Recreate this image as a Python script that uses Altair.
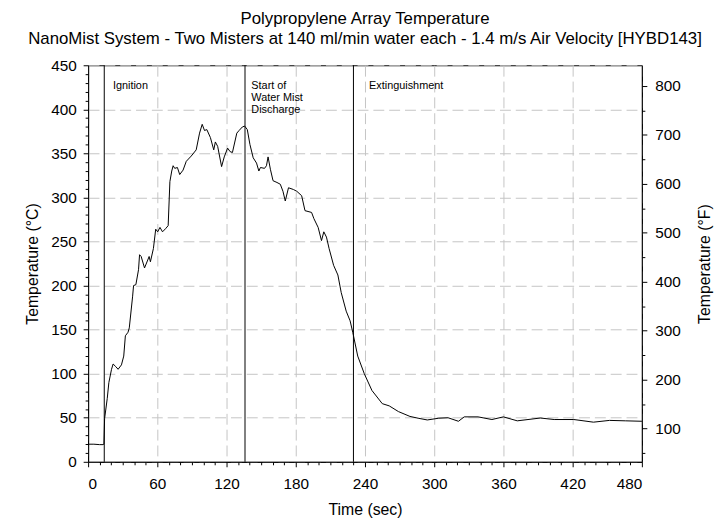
import altair as alt
import pandas as pd

# ---- data ----
time_s = [0, 5, 10, 13, 13.7, 14.3, 16.6, 18, 20.3, 21.7, 24, 26, 28.9, 30.9, 32.3, 34.6,
          35.7, 38.6, 39.4, 41.4, 43.7, 44.6, 46, 48.9, 51.7, 52.9, 54, 56.6, 58.6, 60.3,
          62.3, 64.5, 67.1, 69.4, 70.9, 72.5, 73.7, 75.1, 77.4, 79.4, 82.3, 85.1, 89.4,
          93.7, 96.6, 98.9, 100.9, 102.9, 106, 108.9, 110.3, 112.3, 115.7, 118, 120.9,
          123.1, 125.1, 128.9, 130.9, 133.7, 135.7, 138, 140.3, 143.1, 146, 148, 149.4,
          152.9, 154.6, 156, 158, 160.3, 163.7, 166.6, 168.9, 170.9, 173.7, 178, 180.9,
          185.1, 188, 193.7, 195.7, 199.4, 202.3, 204.3, 206.6, 208.9, 212.8, 216.5,
          219.4, 223.7, 227.1, 229.4, 233.7, 239.4, 246, 255, 261, 269, 279, 286, 294,
          304, 312, 321, 326, 338, 350, 360, 372, 392, 404, 421, 438, 452, 466, 480]
temp_c = [20, 20, 19.5, 19.5, 20, 49, 72, 90, 105, 111, 108, 105, 110, 120, 143, 147,
          152, 188, 200, 201, 218, 235, 233, 220, 229, 233, 227, 242, 264, 261,
          266, 261, 264.5, 268, 318, 330, 336, 333, 334, 326, 331, 341, 347,
          354, 373, 383, 376, 377, 368, 354, 363, 358, 335, 346, 356,
          352, 351, 373, 376, 380, 381, 377, 360, 345, 339, 330, 334,
          333, 336, 346, 332, 319, 317, 315, 307, 296, 311, 309, 307,
          302, 285, 283, 276, 266, 251, 261, 255, 242, 223, 212,
          192, 171, 160, 147, 120, 100, 81, 66, 63.5, 57, 51.5, 49.5, 47.5,
          49.5, 50, 46, 51, 51, 48, 51, 46.5, 49.7, 48, 48, 45, 47, 46.5, 46]

event_t = [14, 136, 230]
label_t = [21.5, 141.5, 243.5]
label_text = ["Ignition", "Start of\nWater Mist\nDischarge", "Extinguishment"]
label_temp = [433, 433, 433]

x_ticks = list(range(0, 481, 10))
y_ticks = list(range(0, 451, 10))
f_ticks = list(range(50, 801, 50))

df = pd.DataFrame({"t": time_s, "c": temp_c})
ev = pd.DataFrame({"t": event_t})
lab = pd.DataFrame({"t": label_t, "c": label_temp, "txt": label_text})

grid_col = "#c4c4c4"
FONT = "Liberation Sans"

X = alt.X("t:Q",
          scale=alt.Scale(domain=[0, 480], nice=False, zero=False),
          axis=alt.Axis(values=x_ticks, title="Time (sec)",
                        labelExpr="datum.value % 60 == 0 ? datum.label : ''",
                        tickSize={"condition": {"test": "datum.value % 60 == 0", "value": 5}, "value": 3},
                        gridOpacity={"condition": {"test": "datum.value % 60 == 0", "value": 1}, "value": 0},
                        grid=True, gridColor=grid_col, gridDash=[11, 5],
                        labelOverlap=False, labelPadding=10, titlePadding=10))

Y = alt.Y("c:Q",
          scale=alt.Scale(domain=[0, 450], nice=False, zero=False),
          axis=alt.Axis(values=y_ticks, title="Temperature (°C)",
                        labelExpr="datum.value % 50 == 0 ? datum.label : ''",
                        tickSize={"condition": {"test": "datum.value % 50 == 0", "value": 5}, "value": 3},
                        gridOpacity={"condition": {"test": "datum.value % 50 == 0", "value": 1}, "value": 0},
                        grid=True, gridColor=grid_col, gridDash=[11, 5],
                        labelOverlap=False, labelPadding=7, titlePadding=10))

line = alt.Chart(df).mark_line(color="black", strokeWidth=1).encode(x=X, y=Y)
rules = alt.Chart(ev).mark_rule(color="black", strokeWidth=1).encode(x=X)
texts = alt.Chart(lab).mark_text(align="left", baseline="top", fontSize=11,
                                 lineBreak="\n", lineHeight=12, color="black",
                                 font=FONT).encode(x=X, y=Y, text="txt:N")

inner = alt.layer(line, rules, texts)

right = alt.Chart(df).transform_calculate(f="datum.c * 1.8 + 32").mark_line(opacity=0).encode(
    x=X,
    y=alt.Y("f:Q",
            scale=alt.Scale(domain=[32, 842], nice=False, zero=False),
            axis=alt.Axis(orient="right", values=f_ticks, title="Temperature (°F)",
                          labelExpr="datum.value % 100 == 0 ? datum.label : ''",
                          tickSize={"condition": {"test": "datum.value % 100 == 0", "value": 5}, "value": 3},
                          grid=False, labelOverlap=False, labelPadding=8,
                          titleAngle=270, titleBaseline="top", titlePadding=17)))

chart = alt.layer(inner, right).resolve_scale(y="independent").properties(
    width=560, height=401,
    padding={"left": 81, "top": 55, "right": 79, "bottom": 63},
    autosize=alt.AutoSizeParams(type="none"),
    title=alt.TitleParams(
        text=["Polypropylene Array Temperature",
              "NanoMist System - Two Misters at 140 ml/min water each - 1.4 m/s Air Velocity [HYBD143]"],
        fontSize=17, fontWeight="normal", color="black", font=FONT,
        lineHeight=20, offset=11, anchor="middle"),
).configure(font=FONT, background="white").configure_view(
    stroke="black", strokeWidth=1
).configure_axis(
    domainColor="black", tickColor="black", labelColor="black", titleColor="black",
    labelFontSize=15.5, titleFontSize=16, titleFontWeight="normal",
    labelFont=FONT, titleFont=FONT
)

chart.save("out.html", embed_options={"renderer": "svg", "actions": False})
